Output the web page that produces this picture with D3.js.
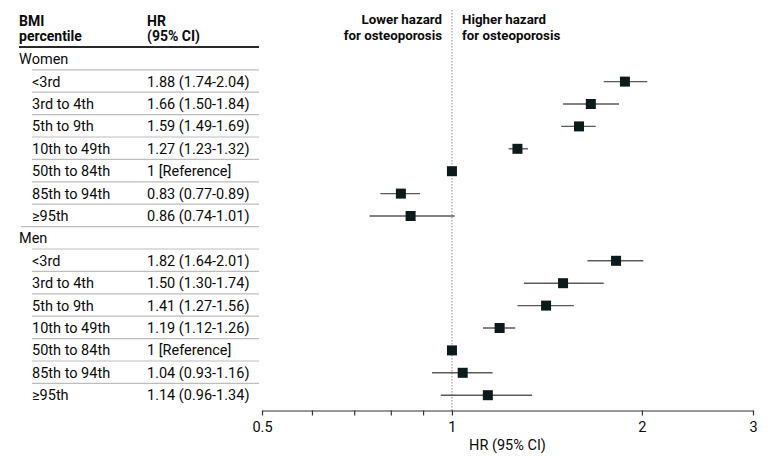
<!DOCTYPE html>
<html><head><meta charset="utf-8">
<script src="https://cdn.jsdelivr.net/npm/d3@7"></script>
<style>
html,body{margin:0;padding:0;background:#fff;}
text{font-family:Roboto, "Noto Sans", sans-serif;fill:#0a0a0a;}
</style></head>
<body><svg id="c" width="780" height="465"></svg>
<script>
// ---- data ----
const groups = ["Women", "Men"];
const categories = ["<3rd", "3rd to 4th", "5th to 9th", "10th to 49th", "50th to 84th", "85th to 94th", "≥95th"];
const womenHR = [1.88, 1.66, 1.59, 1.27, 1, 0.83, 0.86];
const womenLo = [1.74, 1.50, 1.49, 1.23, null, 0.77, 0.74];
const womenHi = [2.04, 1.84, 1.69, 1.32, null, 0.89, 1.01];
const womenLabel = ["1.88 (1.74-2.04)", "1.66 (1.50-1.84)", "1.59 (1.49-1.69)", "1.27 (1.23-1.32)", "1 [Reference]", "0.83 (0.77-0.89)", "0.86 (0.74-1.01)"];
const menHR = [1.82, 1.50, 1.41, 1.19, 1, 1.04, 1.14];
const menLo = [1.64, 1.30, 1.27, 1.12, null, 0.93, 0.96];
const menHi = [2.01, 1.74, 1.56, 1.26, null, 1.16, 1.34];
const menLabel = ["1.82 (1.64-2.01)", "1.50 (1.30-1.74)", "1.41 (1.27-1.56)", "1.19 (1.12-1.26)", "1 [Reference]", "1.04 (0.93-1.16)", "1.14 (0.96-1.34)"];
const tickValues = [0.5, 0.6, 0.7, 0.8, 0.9, 1, 2, 3];
const tickLabels = ["0.5", "", "", "", "", "1", "2", "3"];
const axisTitle = "HR (95% CI)";

// ---- build rows ----
const rows = [];
[[womenHR, womenLo, womenHi, womenLabel], [menHR, menLo, menHi, menLabel]].forEach((g, gi) => {
  rows.push({type: "group", label: groups[gi], gi});
  categories.forEach((c, i) => rows.push({type: "item", label: c, hr: g[0][i], lo: g[1][i], hi: g[2][i], txt: g[3][i], gi, last: i === categories.length - 1}));
});

const FS = 14.5;
const svg = d3.select("#c");
const x = d3.scaleLog().domain([0.5, 3]).range([262, 753]);
const step = 22.4;
const y = d3.scaleLinear().domain([0, rows.length - 1]).range([59.2, 59.2 + step * (rows.length - 1)]);
const axisY = 410.5;

// table header
const hdr = svg.append("g").attr("font-size", 14).attr("font-weight", "bold");
hdr.append("text").attr("x", 19).attr("y", 25.5).text("BMI");
hdr.append("text").attr("x", 19).attr("y", 41).text("percentile");
hdr.append("text").attr("x", 147).attr("y", 25.5).text("HR");
hdr.append("text").attr("x", 147).attr("y", 41).text("(95% CI)");
const hdr2 = svg.append("g").attr("font-size", 13.3).attr("font-weight", "bold");
hdr2.append("text").attr("x", 442).attr("y", 24).attr("text-anchor", "end").text("Lower hazard");
hdr2.append("text").attr("x", 442).attr("y", 40).attr("text-anchor", "end").text("for osteoporosis");
hdr2.append("text").attr("x", 462).attr("y", 24).text("Higher hazard");
hdr2.append("text").attr("x", 462).attr("y", 40).text("for osteoporosis");
svg.append("line").attr("x1", 19).attr("x2", 259).attr("y1", 47).attr("y2", 47).attr("stroke", "#2a2a2a").attr("stroke-width", 2);

// separators
rows.forEach((r, i) => {
  if (i === rows.length - 1) return;
  const yy = y(i) + 10.6;
  const x1 = (r.type === "item" && r.last) ? 21 : 32;
  svg.append("line").attr("x1", x1).attr("x2", 259).attr("y1", yy).attr("y2", yy).attr("stroke", "#bdbdbd").attr("stroke-width", 1.2);
});

// table text
const tt = svg.append("g").attr("font-size", FS);
rows.forEach((r, i) => {
  if (r.type === "group") {
    tt.append("text").attr("x", 19).attr("y", y(i) + 5).text(r.label);
  } else {
    tt.append("text").attr("x", 32).attr("y", y(i) + 5).text(r.label);
    tt.append("text").attr("x", 147).attr("y", y(i) + 5).text(r.txt);
  }
});

// reference line
svg.append("line").attr("x1", x(1)).attr("x2", x(1)).attr("y1", 10).attr("y2", axisY)
  .attr("stroke", "#8a8a8a").attr("stroke-width", 1).attr("stroke-dasharray", "1.5,1.5");

// CIs and markers
const items = rows.map((r, i) => ({...r, i})).filter(r => r.type === "item");
svg.append("g").selectAll("line").data(items.filter(d => d.lo != null)).join("line")
  .attr("x1", d => x(d.lo)).attr("x2", d => x(d.hi))
  .attr("y1", d => y(d.i)).attr("y2", d => y(d.i))
  .attr("stroke", "#5a5a5a").attr("stroke-width", 1.4);
const ms = 10;
svg.append("g").selectAll("rect").data(items).join("rect")
  .attr("x", d => x(d.hr) - ms / 2).attr("y", d => y(d.i) - ms / 2)
  .attr("width", ms).attr("height", ms).attr("fill", "#0b1a1a");

// axis
const ax = svg.append("g").attr("transform", `translate(0,${axisY})`)
  .call(d3.axisBottom(x).tickValues(tickValues).tickSize(5).tickSizeOuter(0)
    .tickFormat((d, i) => tickLabels[i]));
ax.select(".domain").attr("stroke", "#333").attr("stroke-width", 1.2);
ax.selectAll(".tick line").attr("stroke", "#333").attr("stroke-width", 1.2);
ax.selectAll(".tick text").attr("font-size", FS).attr("font-family", "Roboto").attr("fill", "#0a0a0a").attr("dy", null).attr("y", 21.5);
svg.append("text").attr("x", (x(0.5) + x(3)) / 2).attr("y", 450).attr("text-anchor", "middle").attr("font-size", FS).text(axisTitle);
</script></body></html>
